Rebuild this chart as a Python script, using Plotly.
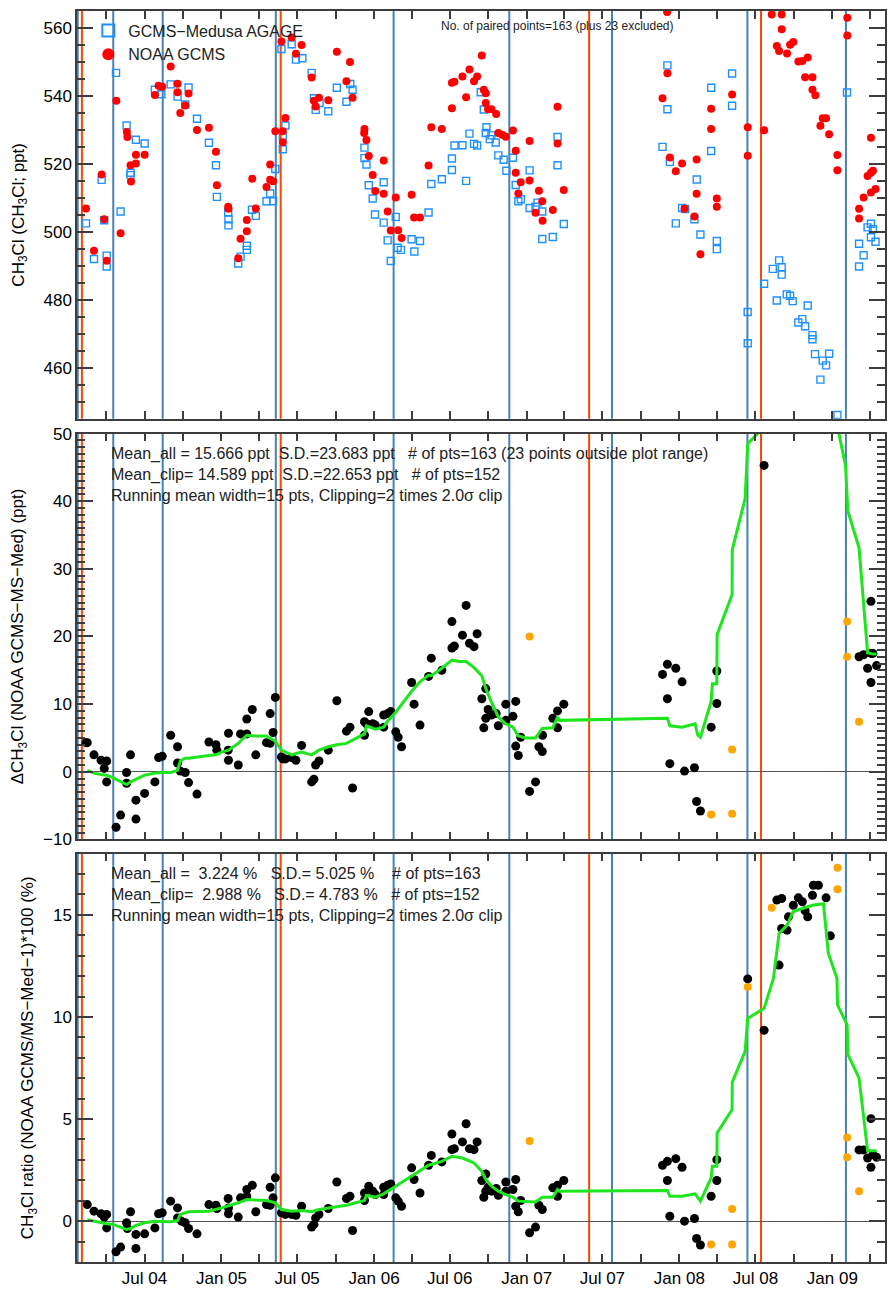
import pandas as pd
import plotly.graph_objects as go
from plotly.subplots import make_subplots

# ---------------- data (times as decimal years) ----------------
agage_t = [2004.115, 2004.167, 2004.217, 2004.234, 2004.250, 2004.250, 2004.311, 2004.341, 2004.380, 2004.406,
           2004.406, 2004.441, 2004.498, 2004.565, 2004.607, 2004.668, 2004.713, 2004.763, 2004.785, 2004.840,
           2004.918, 2004.964, 2004.970, 2005.044, 2005.046, 2005.046, 2005.110, 2005.125, 2005.166, 2005.166,
           2005.200, 2005.225, 2005.295, 2005.319, 2005.338, 2005.353, 2005.393, 2005.402, 2005.402, 2005.419,
           2005.460, 2005.488, 2005.530, 2005.591, 2005.606, 2005.617, 2005.643, 2005.700, 2005.756, 2005.819,
           2005.844, 2005.859, 2005.937, 2005.937, 2005.950, 2005.965, 2005.991, 2006.006, 2006.063, 2006.063,
           2006.089, 2006.109, 2006.142, 2006.154, 2006.176, 2006.246, 2006.264, 2006.301, 2006.357, 2006.375,
           2006.444,
           2006.510, 2006.510, 2006.527, 2006.579, 2006.603, 2006.625, 2006.655, 2006.675, 2006.699, 2006.719,
           2006.736, 2006.732, 2006.758, 2006.769, 2006.797, 2006.814, 2006.849, 2006.867, 2006.910, 2006.928,
           2006.945, 2006.962, 2007.019, 2007.019, 2007.058, 2007.071, 2007.102, 2007.102, 2007.171, 2007.202,
           2007.202, 2007.243, 2007.890, 2007.922, 2007.922, 2007.938, 2007.977, 2008.018, 2008.038, 2008.099,
           2008.114, 2008.138, 2008.208, 2008.208, 2008.245, 2008.245, 2008.345, 2008.345, 2008.447, 2008.447,
           2008.554, 2008.611, 2008.637, 2008.652, 2008.669, 2008.669, 2008.702, 2008.724, 2008.741, 2008.778,
           2008.804, 2008.822, 2008.839, 2008.870, 2008.870, 2008.887, 2008.922, 2008.937, 2008.959, 2008.979,
           2009.033, 2009.096, 2009.175, 2009.175, 2009.205, 2009.231, 2009.253, 2009.266, 2009.253, 2009.283]
agage_v = [502.5, 492.0, 515.3, 503.4, 493.0, 489.8, 546.8, 506.0, 531.3, 517.4,
           516.7, 527.1, 526.0, 541.8, 540.5, 543.4, 539.8, 537.5, 542.5, 533.3,
           526.2, 519.6, 510.3, 505.7, 503.7, 501.9, 490.7, 492.7, 495.9, 494.7,
           506.5, 504.7, 509.0, 511.3, 509.0, 518.5, 553.8, 524.3, 528.1, 531.3,
           555.2, 550.7, 551.1, 546.8, 539.3, 535.9, 537.9, 535.5, 542.4, 538.3,
           543.5, 541.8, 524.8, 521.7, 519.8, 513.7, 509.8, 505.1, 514.6, 502.7,
           497.5, 491.4, 504.4, 495.3, 494.7, 497.8, 494.2, 497.3, 505.7, 514.1,
           515.5,
           521.6, 518.2, 525.4, 525.5, 515.0, 528.9, 525.9, 525.4, 541.1, 536.0,
           530.8, 529.1, 527.3, 528.4, 526.3, 522.5, 521.2, 518.0, 521.8, 513.8,
           509.0, 509.6, 518.1, 507.0, 507.4, 508.6, 506.0, 497.9, 498.5, 527.9,
           519.6, 502.3, 525.0, 549.0, 536.1, 520.6, 502.5, 507.0, 506.7, 503.7,
           515.4, 499.2, 542.4, 523.8, 497.3, 494.9, 546.6, 537.1, 476.4, 467.2,
           484.7, 489.1, 479.8, 491.6, 489.6, 487.4, 481.6, 481.2, 479.6, 473.3,
           474.3, 472.2, 478.3, 469.6, 468.4, 464.0, 456.5, 462.1, 460.7, 464.1,
           446.1, 541.0, 496.5, 489.8, 493.1, 501.3, 502.4, 500.8, 498.4, 497.1]

noaa_t = [2004.115, 2004.167, 2004.217, 2004.234, 2004.250, 2004.313, 2004.341, 2004.382, 2004.385, 2004.406,
          2004.409, 2004.441, 2004.441, 2004.498, 2004.565, 2004.589, 2004.613, 2004.668, 2004.713, 2004.713,
          2004.731, 2004.763, 2004.785, 2004.840, 2004.918, 2004.964, 2004.970, 2005.044, 2005.046, 2005.110,
          2005.125, 2005.166, 2005.166, 2005.202, 2005.225, 2005.295, 2005.319, 2005.319, 2005.338, 2005.353,
          2005.393, 2005.402, 2005.402, 2005.419, 2005.460, 2005.488, 2005.525, 2005.591, 2005.606, 2005.617,
          2005.639, 2005.700, 2005.756, 2005.819, 2005.842, 2005.859, 2005.937, 2005.935, 2005.950, 2005.965,
          2005.991, 2006.008, 2006.063, 2006.063, 2006.089, 2006.109, 2006.142, 2006.158, 2006.180, 2006.246,
          2006.262, 2006.301, 2006.357, 2006.375, 2006.444,
          2006.510, 2006.510, 2006.526, 2006.579, 2006.603, 2006.625, 2006.655, 2006.675, 2006.706, 2006.719,
          2006.732, 2006.732, 2006.747, 2006.769, 2006.800, 2006.814, 2006.840, 2006.863, 2006.910, 2006.928,
          2006.928, 2006.945, 2006.961, 2007.019, 2007.019, 2007.058, 2007.080, 2007.102, 2007.104, 2007.171,
          2007.202, 2007.202, 2007.243, 2007.890, 2007.920, 2007.922, 2007.938, 2007.977, 2008.018, 2008.034,
          2008.099, 2008.113, 2008.113, 2008.138, 2008.208, 2008.208, 2008.245, 2008.245, 2008.345, 2008.447,
          2008.447, 2008.554, 2008.604, 2008.669, 2008.669, 2008.637, 2008.652, 2008.704, 2008.724, 2008.745,
          2008.778, 2008.804, 2008.839, 2008.822, 2008.870, 2008.870, 2008.889, 2008.922, 2008.937, 2008.959,
          2008.979, 2009.033, 2009.033, 2009.098, 2009.098, 2009.175, 2009.175, 2009.205, 2009.231, 2009.253,
          2009.266, 2009.253, 2009.253, 2009.283]
noaa_v = [506.9, 494.4, 516.9, 503.7, 491.5, 538.6, 499.6, 529.4, 527.9, 519.6,
          514.8, 522.7, 520.1, 522.7, 540.3, 543.0, 542.7, 548.7, 543.6, 541.1,
          535.0, 537.2, 540.7, 530.0, 530.6, 523.6, 513.7, 507.4, 506.8, 492.2,
          498.0, 503.5, 500.2, 515.6, 506.9, 513.2, 519.8, 515.3, 514.9, 529.6,
          556.0, 526.4, 529.6, 533.5, 557.2, 552.4, 555.0, 545.4, 538.6, 536.9,
          539.5, 538.7, 553.0, 544.3, 550.0, 539.5, 530.3, 529.1, 527.0, 522.3,
          516.7, 512.0, 521.0, 511.2, 506.0, 500.4, 510.1, 500.5, 498.2, 510.9,
          504.2, 504.2, 519.5, 530.8, 530.3,
          536.4, 543.9, 544.2, 545.7, 539.6, 547.8, 544.3, 545.7, 551.9, 541.8,
          540.8, 537.9, 536.1, 536.1, 534.7, 529.1, 528.6, 528.0, 529.8, 523.9,
          517.4, 511.3, 514.6, 526.7, 515.1, 505.6, 512.1, 509.0, 503.3, 506.4,
          536.8, 526.0, 512.3, 539.3, 564.7, 546.7, 521.9, 517.8, 520.1, 506.8,
          504.5, 521.3, 511.2, 493.4, 536.2, 530.3, 509.8, 507.4, 540.4, 530.8,
          522.4, 529.9, 564.0, 564.0, 559.6, 554.7, 553.2, 552.5, 555.1, 555.9,
          550.1, 550.3, 551.3, 545.5, 545.5, 541.8, 540.2, 531.2, 533.4, 533.4,
          528.7, 522.6, 518.1, 563.0, 557.8, 506.8, 503.9, 510.1, 516.4, 517.4,
          518.0, 527.7, 511.6, 512.6]

diff_t = [2004.115, 2004.123, 2004.167, 2004.213, 2004.234, 2004.250, 2004.250, 2004.311, 2004.341, 2004.380,
          2004.380, 2004.406, 2004.441, 2004.441, 2004.498, 2004.565, 2004.589, 2004.613, 2004.668, 2004.713,
          2004.713, 2004.731, 2004.763, 2004.785, 2004.840, 2004.918, 2004.964, 2004.970, 2005.044, 2005.046,
          2005.046, 2005.110, 2005.125, 2005.166, 2005.166, 2005.202, 2005.225, 2005.295, 2005.319, 2005.319,
          2005.338, 2005.353, 2005.393, 2005.402, 2005.419, 2005.460, 2005.488, 2005.525, 2005.591, 2005.606,
          2005.617, 2005.639, 2005.700, 2005.756, 2005.819, 2005.842, 2005.859, 2005.937, 2005.937, 2005.950,
          2005.965, 2005.991, 2006.008, 2006.063, 2006.063, 2006.089, 2006.109, 2006.142, 2006.158, 2006.180,
          2006.246, 2006.262, 2006.301, 2006.357, 2006.375, 2006.444,
          2006.510, 2006.510, 2006.526, 2006.579, 2006.603, 2006.625, 2006.655, 2006.675, 2006.706, 2006.732,
          2006.732, 2006.747, 2006.769, 2006.719, 2006.800, 2006.814, 2006.863, 2006.863, 2006.910, 2006.928,
          2006.928, 2006.945, 2006.961, 2007.019, 2007.058, 2007.080, 2007.102, 2007.104, 2007.171, 2007.202,
          2007.202, 2007.243, 2007.890, 2007.922, 2007.922, 2007.938, 2007.977, 2008.018, 2008.034, 2008.099,
          2008.113, 2008.138, 2008.208, 2008.245, 2008.245, 2008.554, 2009.175, 2009.205, 2009.253, 2009.231,
          2009.253, 2009.266, 2009.253, 2009.290]
diff_v = [4.3, 4.3, 2.5, 1.7, 0.5, 1.6, -1.5, -8.2, -6.4, -0.1,
          -1.7, 2.5, -4.2, -7.0, -3.2, -1.5, 2.1, 2.3, 5.4, 3.7,
          1.3, 0.1, -0.1, -1.6, -3.3, 4.4, 4.0, 3.2, 3.2, 1.7,
          5.7, 1.0, 5.6, 7.8, 5.6, 9.2, 2.5, 4.3, 8.6, 4.2,
          5.8, 11.0, 2.2, 1.9, 1.9, 2.1, 1.7, 3.9, -1.5, -1.1,
          1.0, 1.6, 3.2, 10.5, 6.0, 6.6, -2.4, 5.4, 7.4, 7.1,
          8.9, 7.1, 6.9, 8.4, 6.6, 8.6, 8.9, 5.9, 5.1, 3.7,
          13.2, 10.0, 6.9, 14.1, 16.8, 15.0,
          22.2, 18.3, 18.6, 20.2, 24.6, 19.0, 18.5, 20.4, 10.8, 12.3,
          7.9, 9.2, 8.4, 6.5, 8.6, 6.8, 10.0, 7.6, 8.2, 10.4,
          3.8, 2.4, 5.1, -2.9, -1.5, 3.7, 3.0, 5.4, 7.9, 6.5,
          9.0, 10.0, 14.4, 15.9, 10.8, 1.2, 15.3, 13.3, 0.1, 0.6,
          -4.4, -5.8, 6.6, 14.9, 10.1, 45.3, 17.0, 17.3, 25.2, 15.3,
          17.5, 17.5, 13.2, 15.7]
diff_clip_t = [2007.019, 2008.208, 2008.345, 2008.345, 2009.097, 2009.097, 2009.175]
diff_clip_v = [20.0, -6.3, 3.3, -6.2, 22.2, 17.0, 7.4]
diff_run_t = [2004.123, 2004.167, 2004.213, 2004.250, 2004.293, 2004.341, 2004.380, 2004.406, 2004.441, 2004.498,
              2004.565, 2004.613, 2004.668, 2004.713, 2004.731, 2004.763, 2004.785, 2004.840, 2004.918, 2004.964,
              2005.001, 2005.046, 2005.110, 2005.166, 2005.225, 2005.295, 2005.319, 2005.353, 2005.393, 2005.419,
              2005.460, 2005.488, 2005.525, 2005.591, 2005.606, 2005.639, 2005.700, 2005.756, 2005.819, 2005.859,
              2005.937, 2005.950, 2005.991, 2006.008, 2006.063, 2006.089, 2006.142, 2006.180, 2006.246, 2006.301,
              2006.357, 2006.375, 2006.444, 2006.510, 2006.557, 2006.603, 2006.655, 2006.706, 2006.732, 2006.769,
              2006.814, 2006.863, 2006.910, 2006.945, 2006.993, 2007.058, 2007.102, 2007.171, 2007.202, 2007.215,
              2007.407, 2007.679, 2007.922, 2007.938, 2008.018, 2008.103, 2008.121, 2008.138, 2008.208, 2008.216,
              2008.245, 2008.247, 2008.345, 2008.346, 2008.430, 2008.447, 2008.534, 2008.554, 2008.615, 2008.652,
              2008.704, 2008.744, 2008.804, 2008.870, 2008.942, 2008.974, 2009.030, 2009.034, 2009.087, 2009.101,
              2009.175, 2009.231, 2009.266, 2009.290]
diff_run_v = [0.2, -0.2, -0.4, -0.5, -0.9, -1.5, -1.9, -1.5, -1.1, -0.5,
              -0.2, -0.1, -0.1, 0.2, 1.6, 2.0, 2.0, 2.2, 2.4, 2.5,
              2.9, 3.2, 4.2, 5.4, 5.3, 5.3, 5.0, 4.5, 3.2, 2.9,
              2.5, 2.7, 2.9, 2.5, 2.7, 3.2, 3.7, 4.0, 4.2, 4.7,
              5.6, 6.8, 6.4, 6.3, 6.6, 7.5, 8.8, 10.0, 11.9, 13.3,
              14.3, 14.2, 15.3, 16.5, 16.3, 16.3, 15.4, 14.2, 12.3, 10.3,
              8.1, 7.1, 6.6, 5.3, 5.0, 5.0, 6.4, 6.5, 8.1, 7.6,
              7.7, 7.8, 7.9, 6.8, 6.6, 7.1, 5.4, 5.1, 10.4, 13.0,
              13.0, 20.3, 26.2, 32.8, 40.4, 48.5, 50.5, 53.0, 57.0, 68.0,
              70.0, 73.0, 74.0, 74.5, 75.0, 63.0, 57.0, 51.0, 45.2, 38.6,
              33.1, 17.6, 17.4, 17.4]

ratio_t = [2004.123, 2004.167, 2004.213, 2004.234, 2004.250, 2004.250, 2004.311, 2004.341, 2004.380, 2004.385,
           2004.406, 2004.441, 2004.441, 2004.498, 2004.565, 2004.589, 2004.613, 2004.668, 2004.713, 2004.713,
           2004.739, 2004.763, 2004.785, 2004.840, 2004.918, 2004.964, 2004.970, 2005.044, 2005.046, 2005.046,
           2005.110, 2005.125, 2005.166, 2005.166, 2005.202, 2005.225, 2005.295, 2005.319, 2005.319, 2005.338,
           2005.353, 2005.393, 2005.419, 2005.460, 2005.488, 2005.525, 2005.591, 2005.606, 2005.617, 2005.639,
           2005.700, 2005.756, 2005.819, 2005.842, 2005.859, 2005.937, 2005.937, 2005.965, 2005.991, 2006.008,
           2006.063, 2006.063, 2006.089, 2006.109, 2006.142, 2006.158, 2006.180, 2006.246, 2006.262, 2006.301,
           2006.357, 2006.375, 2006.444,
           2006.510, 2006.510, 2006.526, 2006.579, 2006.603, 2006.625, 2006.655, 2006.675, 2006.706, 2006.732,
           2006.719, 2006.732, 2006.747, 2006.769, 2006.800, 2006.814, 2006.863, 2006.863, 2006.910, 2006.928,
           2006.928, 2006.945, 2006.961, 2007.019, 2007.058, 2007.080, 2007.102, 2007.171, 2007.202, 2007.202,
           2007.243, 2007.890, 2007.922, 2007.922, 2007.938, 2007.977, 2008.018, 2008.034, 2008.099, 2008.113,
           2008.138, 2008.208, 2008.245, 2008.245, 2008.447, 2008.554, 2008.637, 2008.669, 2008.652, 2008.669,
           2008.704, 2008.713, 2008.745, 2008.778, 2008.804, 2008.839, 2008.822, 2008.870, 2008.876, 2008.909,
           2008.959, 2008.987, 2009.175, 2009.205, 2009.253, 2009.231, 2009.253, 2009.266, 2009.290]
ratio_v = [0.81, 0.49, 0.36, 0.20, 0.33, -0.33, -1.50, -1.27, -0.08, -0.36,
           0.46, -0.65, -1.34, -0.62, -0.33, 0.36, 0.41, 0.98, 0.65, 0.16,
           0.00, -0.08, -0.36, -0.62, 0.81, 0.78, 0.62, 1.11, 0.36, 0.65,
           0.20, 1.14, 1.55, 1.22, 1.76, 0.46, 0.81, 1.66, 0.78, 1.14,
           2.12, 0.41, 0.33, 0.33, 0.29, 0.73, -0.29, -0.16, 0.16, 0.33,
           0.62, 1.92, 1.11, 1.22, -0.46, 1.01, 1.38, 1.71, 1.47, 1.30,
           1.66, 1.30, 1.76, 1.82, 1.14, 0.98, 0.73, 2.61, 2.04, 1.38,
           2.74, 3.22, 2.90,
           4.27, 3.50, 3.55, 3.88, 4.77, 3.55, 3.50, 3.88, 1.99, 2.31,
           1.17, 1.47, 1.66, 1.47, 1.60, 1.27, 1.92, 1.47, 1.55, 2.04,
           0.73, 0.46, 1.01, -0.57, -0.29, 0.78, 0.57, 1.63, 1.22, 1.76,
           1.99, 2.74, 2.93, 1.99, 0.24, 3.06, 2.64, 0.00, 0.13, -0.85,
           -1.17, 1.22, 3.01, 1.99, 11.86, 9.35, 15.72, 15.80, 12.54, 14.33,
           14.25, 14.90, 15.47, 15.83, 15.64, 14.90, 15.20, 15.96, 16.45, 16.45,
           15.83, 13.97, 3.49, 3.49, 5.02, 3.09, 2.64, 3.26, 3.13]
ratio_clip_t = [2007.019, 2008.208, 2008.345, 2008.345, 2008.447, 2008.604, 2009.034, 2009.034, 2009.097, 2009.097,
                2009.175]
ratio_clip_v = [3.93, -1.14, 0.60, -1.14, 11.47, 15.34, 17.30, 16.25, 4.10, 3.13, 1.47]
ratio_run_t = [2004.123, 2004.250, 2004.293, 2004.341, 2004.380, 2004.406, 2004.441, 2004.498, 2004.565, 2004.668,
               2004.713, 2004.731, 2004.785, 2004.918, 2005.001, 2005.110, 2005.166, 2005.295, 2005.353, 2005.393,
               2005.460, 2005.525, 2005.591, 2005.639, 2005.756, 2005.819, 2005.937, 2005.950, 2006.008, 2006.063,
               2006.142, 2006.246, 2006.357, 2006.444, 2006.510, 2006.579, 2006.655, 2006.706, 2006.732, 2006.769,
               2006.814, 2006.863, 2006.910, 2006.945, 2007.058, 2007.102, 2007.171, 2007.202, 2007.215, 2007.922,
               2007.938, 2008.018, 2008.103, 2008.138, 2008.208, 2008.216, 2008.245, 2008.247, 2008.345, 2008.346,
               2008.430, 2008.447, 2008.534, 2008.554, 2008.615, 2008.652, 2008.704, 2008.744, 2008.804, 2008.870,
               2008.942, 2008.974, 2009.030, 2009.034, 2009.097, 2009.101, 2009.175, 2009.231, 2009.290]
ratio_run_v = [0.07, -0.13, -0.16, -0.29, -0.41, -0.36, -0.21, -0.08, 0.00, -0.03,
               0.03, 0.33, 0.46, 0.49, 0.65, 0.90, 1.06, 1.01, 0.90, 0.57,
               0.49, 0.52, 0.46, 0.57, 0.73, 0.78, 1.01, 1.27, 1.17, 1.34,
               1.71, 2.20, 2.74, 2.93, 3.18, 3.09, 2.85, 2.44, 2.04, 1.71,
               1.47, 1.30, 1.17, 0.98, 0.94, 1.17, 1.17, 1.55, 1.47, 1.50,
               1.22, 1.22, 1.34, 0.98, 2.12, 2.69, 2.69, 4.32, 5.46, 6.81,
               8.31, 9.93, 10.34, 10.42, 11.89, 14.09, 14.50, 15.15, 15.31, 15.47,
               15.54, 13.11, 11.89, 10.59, 9.61, 8.18, 7.00, 3.45, 3.45]

blue_lines = [2004.061, 2004.293, 2004.616, 2005.356, 2006.128, 2006.886, 2007.559, 2008.445, 2009.089]
orange_lines = [2004.088, 2005.388, 2007.409, 2008.534]
x_range = [2004.056, 2009.345]


def to_date(y):
    yr = int(y)
    s = pd.Timestamp(yr, 1, 1)
    e = pd.Timestamp(yr + 1, 1, 1)
    return s + (y - yr) * (e - s)


def dates(lst):
    return [to_date(v) for v in lst]


AX = "#3c3c3c"
FONT = "Liberation Sans, Arial, sans-serif"
BLUE_L = "#4682B4"
ORANGE_L = "#FF4500"
GREEN = "#1EE61E"

fig = make_subplots(rows=3, cols=1, shared_xaxes=True)

fig.add_trace(go.Scatter(x=dates(agage_t), y=agage_v, mode="markers", name="GCMS\u2212Medusa AGAGE",
                         marker=dict(symbol="square-open", size=7, color="#1E90FF", line=dict(width=1.4))),
              row=1, col=1)
fig.add_trace(go.Scatter(x=dates(noaa_t), y=noaa_v, mode="markers", name="NOAA GCMS",
                         marker=dict(symbol="circle", size=8, color="#FF0000")), row=1, col=1)

fig.add_trace(go.Scatter(x=dates(diff_t), y=diff_v, mode="markers", showlegend=False,
                         marker=dict(size=9, color="black")), row=2, col=1)
fig.add_trace(go.Scatter(x=dates(diff_clip_t), y=diff_clip_v, mode="markers", showlegend=False,
                         marker=dict(size=8, color="#FFA500")), row=2, col=1)
fig.add_trace(go.Scatter(x=dates(diff_run_t), y=diff_run_v, mode="lines", showlegend=False,
                         line=dict(color=GREEN, width=3)), row=2, col=1)

fig.add_trace(go.Scatter(x=dates(ratio_t), y=ratio_v, mode="markers", showlegend=False,
                         marker=dict(size=9, color="black")), row=3, col=1)
fig.add_trace(go.Scatter(x=dates(ratio_clip_t), y=ratio_clip_v, mode="markers", showlegend=False,
                         marker=dict(size=8, color="#FFA500")), row=3, col=1)
fig.add_trace(go.Scatter(x=dates(ratio_run_t), y=ratio_run_v, mode="lines", showlegend=False,
                         line=dict(color=GREEN, width=3)), row=3, col=1)

shapes = []
for ax in ["", "2", "3"]:
    for v in blue_lines:
        d = to_date(v).strftime("%Y-%m-%d %H:%M:%S")
        shapes.append(dict(type="line", xref="x" + ax, yref="y" + ax + " domain", x0=d, x1=d, y0=0, y1=1,
                           line=dict(color=BLUE_L, width=2), layer="below"))
    for v in orange_lines:
        d = to_date(v).strftime("%Y-%m-%d %H:%M:%S")
        shapes.append(dict(type="line", xref="x" + ax, yref="y" + ax + " domain", x0=d, x1=d, y0=0, y1=1,
                           line=dict(color=ORANGE_L, width=2), layer="below"))

xcommon = dict(type="date", range=[to_date(x_range[0]), to_date(x_range[1])], showline=True, mirror="ticks",
               linecolor=AX, linewidth=1.5, ticks="inside", ticklen=8, tickwidth=1.5, tickcolor=AX,
               dtick="M6", tick0="2004-01-01", tickformat="%b %y", showgrid=False, zeroline=False,
               tickfont=dict(size=17, color="black"),
               minor=dict(dtick="M3", tick0="2004-01-01", ticks="inside", ticklen=8, tickwidth=1.5,
                          tickcolor=AX, showgrid=False))


def ycommon(rng, dt, mdt, zero):
    return dict(range=rng, dtick=dt, tick0=0, showline=True, mirror="ticks", linecolor=AX, linewidth=1.5,
                ticks="inside", ticklen=16, tickwidth=1.5, tickcolor=AX, showgrid=False,
                zeroline=zero, zerolinecolor="#555555", zerolinewidth=1.2,
                tickfont=dict(size=17, color="black"),
                minor=dict(dtick=mdt, ticks="inside", ticklen=8, tickwidth=1.5, tickcolor=AX, showgrid=False),
                title=dict(font=dict(size=17, color="black")))


fig.update_layout(
    width=889, height=1290,
    margin=dict(l=77, r=2, t=10, b=22),
    paper_bgcolor="white", plot_bgcolor="white",
    font=dict(family=FONT, color="black"),
    shapes=shapes,
    xaxis=xcommon, xaxis2=xcommon, xaxis3=xcommon,
    yaxis=dict(ycommon([445, 565], 20, 5, False), domain=[0.6741, 1.0]),
    yaxis2=dict(ycommon([-10, 50], 10, 1, True), domain=[0.3378, 0.6622]),
    yaxis3=dict(ycommon([-2, 18], 5, 1, True), domain=[0.0, 0.3265]),
    legend=dict(x=0.014, y=0.998, xanchor="left", yanchor="top", bgcolor="rgba(0,0,0,0)",
                font=dict(size=16, color="#222222"), itemsizing="constant", tracegroupgap=0),
    showlegend=True,
)
fig.update_xaxes(showticklabels=False, row=1, col=1)
fig.update_xaxes(showticklabels=False, row=2, col=1)
fig.update_xaxes(showticklabels=True, row=3, col=1)

fig.update_yaxes(title_text="CH<sub>3</sub>Cl (CH<sub>3</sub>Cl; ppt)", row=1, col=1)
fig.update_yaxes(title_text="\u0394CH<sub>3</sub>Cl (NOAA GCMS\u2212MS\u2212Med) (ppt)", row=2, col=1)
fig.update_yaxes(title_text="CH<sub>3</sub>Cl ratio (NOAA GCMS/MS\u2212Med\u22121)*100 (%)", row=3, col=1)

S = "\u00a0"
fig.add_annotation(xref="x domain", yref="y domain", x=0.594, y=0.963, xanchor="center", yanchor="middle",
                   text="No. of paired points=163 (plus 23 excluded)", showarrow=False,
                   font=dict(size=12, color="#222222"))
fig.add_annotation(xref="x2 domain", yref="y2 domain", x=0.040, y=0.978, xanchor="left", yanchor="top",
                   align="left", showarrow=False, font=dict(size=16, color="#222222"),
                   text=("Mean_all = 15.666 ppt" + S * 2 + "S.D.=23.683 ppt" + S * 3 +
                         "# of pts=163 (23 points outside plot range)<br>"
                         "Mean_clip= 14.589 ppt" + S * 2 + "S.D.=22.653 ppt" + S * 3 + "# of pts=152<br>"
                         "Running mean width=15 pts, Clipping=2 times 2.0\u03c3 clip"))
fig.add_annotation(xref="x3 domain", yref="y3 domain", x=0.040, y=0.976, xanchor="left", yanchor="top",
                   align="left", showarrow=False, font=dict(size=16, color="#222222"),
                   text=("Mean_all =" + S * 2 + "3.224 %" + S * 3 + "S.D.=" + S + "5.025 %" + S * 4 +
                         "# of pts=163<br>"
                         "Mean_clip=" + S * 2 + "2.988 %" + S * 3 + "S.D.=" + S + "4.783 %" + S * 3 +
                         "# of pts=152<br>"
                         "Running mean width=15 pts, Clipping=2 times 2.0\u03c3 clip"))

fig.write_html("out.html", config={"displayModeBar": False},
               post_script="document.body.style.margin='0';")
